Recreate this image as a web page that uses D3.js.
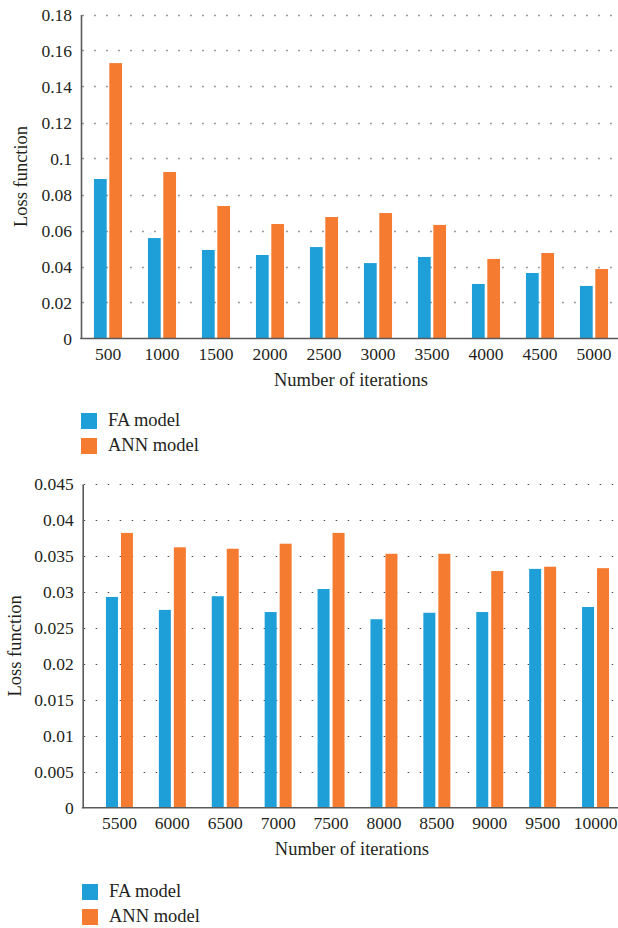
<!DOCTYPE html>
<html>
<head>
<meta charset="utf-8">
<script src="https://cdn.jsdelivr.net/npm/d3@7"></script>
<style>
  html, body { margin: 0; padding: 0; background: #fff; }
  svg { display: block; }
</style>
</head>
<body>
<svg id="chart" width="618" height="928"></svg>
<script>
// Series names and colours
const seriesNames = ["FA model", "ANN model"];
const seriesColors = ["#1e9fd8", "#f47b30"];

// Upper panel: iterations 500–5000
const topCategories = ["500", "1000", "1500", "2000", "2500", "3000", "3500", "4000", "4500", "5000"];
const topFA  = [0.0886, 0.0558, 0.0492, 0.0464, 0.0508, 0.0419, 0.0453, 0.0303, 0.0364, 0.0292];
const topANN = [0.1530, 0.0925, 0.0736, 0.0636, 0.0675, 0.0697, 0.0631, 0.0442, 0.0475, 0.0386];
const topTickLabels = ["0", "0.02", "0.04", "0.06", "0.08", "0.1", "0.12", "0.14", "0.16", "0.18"];

// Lower panel: iterations 5500–10000
const bottomCategories = ["5500", "6000", "6500", "7000", "7500", "8000", "8500", "9000", "9500", "10000"];
const bottomFA  = [0.0293, 0.0275, 0.0294, 0.0272, 0.0304, 0.0262, 0.0271, 0.0272, 0.0332, 0.0279];
const bottomANN = [0.0382, 0.0362, 0.0360, 0.0367, 0.0382, 0.0353, 0.0353, 0.0329, 0.0335, 0.0333];
const bottomTickLabels = ["0", "0.005", "0.01", "0.015", "0.02", "0.025", "0.03", "0.035", "0.04", "0.045"];

const serifFont = "'Liberation Serif', 'Tinos', serif";
const textColor = "#231f20";
const svg = d3.select("#chart");

function styleText(sel, size) {
  sel.style("font-family", serifFont).style("font-size", size + "px").style("fill", textColor);
}

function drawPanel(p) {
  const ticks = p.tickLabels.map(Number);
  const yMax = d3.max(ticks);
  const y = d3.scaleLinear().domain([0, yMax]).range([p.y0, p.y1]);
  const x = d3.scaleBand().domain(p.categories).range(p.xRange)
    .paddingInner(p.padInner).paddingOuter(p.padInner / 2);
  const xs = d3.scaleBand().domain(seriesNames).range([0, x.bandwidth()]).paddingInner(p.barGap);

  const g = svg.append("g");

  // dotted gridlines
  g.append("g").selectAll("line")
    .data(ticks.filter(t => t > 0))
    .join("line")
    .attr("x1", p.axisX + 1).attr("x2", 614)
    .attr("y1", d => Math.round(y(d)) + 0.5).attr("y2", d => Math.round(y(d)) + 0.5)
    .attr("stroke", p.gridColor)
    .attr("stroke-width", p.gridWidth)
    .attr("stroke-dasharray", p.gridDash);

  // bars
  const rows = p.categories.map((c, i) => ({ cat: c, vals: [p.fa[i], p.ann[i]] }));
  g.append("g").selectAll("g")
    .data(rows)
    .join("g")
    .attr("transform", d => `translate(${x(d.cat)},0)`)
    .selectAll("rect")
    .data(d => d.vals.map((v, k) => ({ name: seriesNames[k], v, k })))
    .join("rect")
    .attr("x", d => xs(d.name))
    .attr("width", xs.bandwidth())
    .attr("y", d => y(d.v))
    .attr("height", d => y(0) - y(d.v))
    .attr("fill", d => seriesColors[d.k]);

  // y axis
  const yAxis = d3.axisLeft(y).tickValues(ticks).tickSize(0).tickPadding(9)
    .tickFormat((d, i) => p.tickLabels[i]);
  const ya = g.append("g").attr("transform", `translate(${p.axisX},0)`).call(yAxis);
  ya.select(".domain").attr("stroke", "#5a5a5a").attr("stroke-width", 1.6);
  styleText(ya.selectAll("text"), 17.5);

  // x axis
  const xAxis = d3.axisBottom(x).tickSize(0).tickPadding(9);
  const xa = g.append("g").attr("transform", `translate(0,${p.y0})`).call(xAxis);
  xa.select(".domain").remove();
  styleText(xa.selectAll("text"), 17.5);
  g.append("line")
    .attr("x1", p.axisX - 0.8).attr("x2", 618)
    .attr("y1", p.y0).attr("y2", p.y0)
    .attr("stroke", "#5a5a5a").attr("stroke-width", 1.6);

  // axis titles
  styleText(g.append("text")
    .attr("transform", `translate(${p.yTitleX},${(p.y0 + p.y1) / 2}) rotate(-90)`)
    .attr("text-anchor", "middle")
    .text("Loss function"), 18.5);
  styleText(g.append("text")
    .attr("x", (p.axisX + 621) / 2).attr("y", p.y0 + 47)
    .attr("text-anchor", "middle")
    .text("Number of iterations"), 18.5);

  // legend
  const lg = g.append("g").attr("transform", `translate(${p.legendX},${p.legendY})`);
  seriesNames.forEach((name, k) => {
    lg.append("rect").attr("x", 0).attr("y", k * 25).attr("width", 16).attr("height", 16)
      .attr("fill", seriesColors[k]);
    styleText(lg.append("text").attr("x", 27).attr("y", k * 25 + 12.5).text(name), 18.5);
  });
}

drawPanel({
  categories: topCategories, fa: topFA, ann: topANN, tickLabels: topTickLabels,
  y0: 338.5, y1: 14.5, axisX: 81, xRange: [81, 621],
  padInner: 0.48, barGap: 0.17,
  gridColor: "#9a9a9a", gridWidth: 1.6, gridDash: "2,10",
  yTitleX: 27, legendX: 81, legendY: 413
});

drawPanel({
  categories: bottomCategories, fa: bottomFA, ann: bottomANN, tickLabels: bottomTickLabels,
  y0: 807.7, y1: 484, axisX: 82.7, xRange: [93, 622],
  padInner: 0.49, barGap: 0.2,
  gridColor: "#4a4a4a", gridWidth: 1.2, gridDash: "1.5,10.5",
  yTitleX: 21, legendX: 82, legendY: 884
});
</script>
</body>
</html>
